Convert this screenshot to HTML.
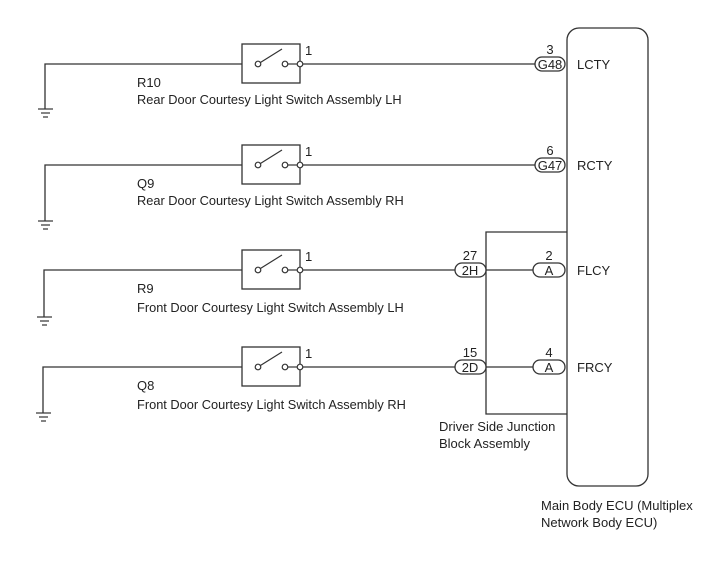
<!DOCTYPE html>
<html><head><style>
html,body{margin:0;padding:0;background:#fff;}
svg{display:block;}
text{font-family:"Liberation Sans",Arial,sans-serif;font-size:13px;fill:#222;}
.d{font-size:12.8px;}
</style></head><body>
<svg width="713" height="581" viewBox="0 0 713 581" xmlns="http://www.w3.org/2000/svg">
<g stroke="#333" stroke-width="1.3" fill="none">
<rect x="567" y="28" width="81" height="458" rx="12" ry="12"/>
<polyline points="567,232 486,232 486,414 567,414"/>
<polyline points="45,109 45,64 242,64"/>
<line x1="300" y1="64" x2="535" y2="64"/>
<rect x="242" y="44" width="58" height="39"/>
<polyline points="45,221 45,165 242,165"/>
<line x1="300" y1="165" x2="535" y2="165"/>
<rect x="242" y="145" width="58" height="39"/>
<polyline points="44,317 44,270 242,270"/>
<line x1="300" y1="270" x2="455" y2="270"/>
<line x1="486" y1="270" x2="533" y2="270"/>
<rect x="242" y="250" width="58" height="39"/>
<polyline points="43,413 43,367 242,367"/>
<line x1="300" y1="367" x2="455" y2="367"/>
<line x1="486" y1="367" x2="533" y2="367"/>
<rect x="242" y="347" width="58" height="39"/>
</g>
<g stroke="#333" stroke-width="1.2">
<line x1="38" y1="109" x2="53" y2="109"/><line x1="41" y1="113" x2="50" y2="113"/><line x1="43" y1="117" x2="48" y2="117"/>
<line x1="38" y1="221" x2="53" y2="221"/><line x1="41" y1="225" x2="50" y2="225"/><line x1="43" y1="229" x2="48" y2="229"/>
<line x1="37" y1="317" x2="52" y2="317"/><line x1="40" y1="321" x2="49" y2="321"/><line x1="42" y1="325" x2="47" y2="325"/>
<line x1="36" y1="413" x2="51" y2="413"/><line x1="39" y1="417" x2="48" y2="417"/><line x1="41" y1="421" x2="46" y2="421"/>
</g>
<g stroke="#333" stroke-width="1.2" fill="#fff">
<g><line x1="258" y1="64" x2="282" y2="49"/><circle cx="258" cy="64" r="2.8"/><circle cx="285" cy="64" r="2.8"/><line x1="288" y1="64" x2="297" y2="64"/><circle cx="300" cy="64" r="2.8"/></g>
<g transform="translate(0,101)"><line x1="258" y1="64" x2="282" y2="49"/><circle cx="258" cy="64" r="2.8"/><circle cx="285" cy="64" r="2.8"/><line x1="288" y1="64" x2="297" y2="64"/><circle cx="300" cy="64" r="2.8"/></g>
<g transform="translate(0,206)"><line x1="258" y1="64" x2="282" y2="49"/><circle cx="258" cy="64" r="2.8"/><circle cx="285" cy="64" r="2.8"/><line x1="288" y1="64" x2="297" y2="64"/><circle cx="300" cy="64" r="2.8"/></g>
<g transform="translate(0,303)"><line x1="258" y1="64" x2="282" y2="49"/><circle cx="258" cy="64" r="2.8"/><circle cx="285" cy="64" r="2.8"/><line x1="288" y1="64" x2="297" y2="64"/><circle cx="300" cy="64" r="2.8"/></g>
</g>
<g stroke="#333" stroke-width="1.3" fill="#fff">
<rect x="535" y="57" width="30" height="14" rx="7"/>
<rect x="535" y="158" width="30" height="14" rx="7"/>
<rect x="455" y="263" width="31" height="14" rx="7"/>
<rect x="533" y="263" width="32" height="14" rx="7"/>
<rect x="455" y="360" width="31" height="14" rx="7"/>
<rect x="533" y="360" width="32" height="14" rx="7"/>
</g>
<g text-anchor="middle">
<text x="550" y="69">G48</text>
<text x="550" y="170">G47</text>
<text x="470" y="275">2H</text>
<text x="549" y="275">A</text>
<text x="470" y="372">2D</text>
<text x="549" y="372">A</text>
<text x="550" y="54">3</text>
<text x="550" y="155">6</text>
<text x="470" y="260">27</text>
<text x="549" y="260">2</text>
<text x="470" y="357">15</text>
<text x="549" y="357">4</text>
</g>
<text x="305" y="55">1</text>
<text x="305" y="156">1</text>
<text x="305" y="261">1</text>
<text x="305" y="358">1</text>
<text x="577" y="69">LCTY</text>
<text x="577" y="170">RCTY</text>
<text x="577" y="275">FLCY</text>
<text x="577" y="372">FRCY</text>
<text x="137" y="87">R10</text>
<text class="d" x="137" y="104">Rear Door Courtesy Light Switch Assembly LH</text>
<text x="137" y="188">Q9</text>
<text class="d" x="137" y="205">Rear Door Courtesy Light Switch Assembly RH</text>
<text x="137" y="293">R9</text>
<text class="d" x="137" y="312">Front Door Courtesy Light Switch Assembly LH</text>
<text x="137" y="390">Q8</text>
<text class="d" x="137" y="409">Front Door Courtesy Light Switch Assembly RH</text>
<text x="439" y="431">Driver Side Junction</text>
<text x="439" y="448">Block Assembly</text>
<text x="541" y="510">Main Body ECU (Multiplex</text>
<text x="541" y="527">Network Body ECU)</text>
</svg>
</body></html>
